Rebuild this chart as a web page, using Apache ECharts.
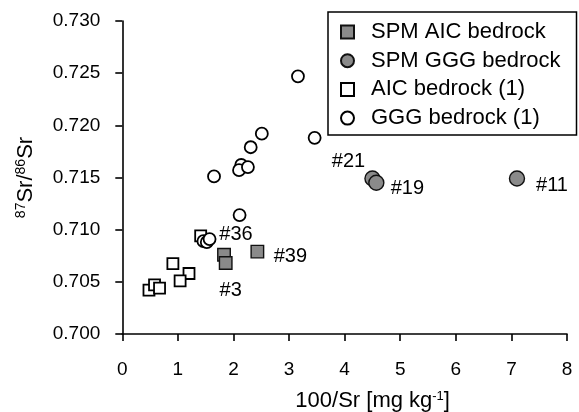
<!DOCTYPE html>
<html><head><meta charset="utf-8">
<script src="https://cdn.jsdelivr.net/npm/echarts@6/dist/echarts.min.js"></script>
<style>html,body{margin:0;padding:0;background:#fff}#c{width:579px;height:412px}</style>
</head><body><div id="c"></div>
<script>
// AIC bedrock (1) - open squares
const aicX = [1.41, 0.91, 1.20, 1.04, 0.48, 0.58, 0.67];
const aicY = [0.7094, 0.70675, 0.7058, 0.7051, 0.7042, 0.7047, 0.7044];
// GGG bedrock (1) - open circles
const gggX = [3.16, 3.46, 2.51, 2.31, 2.14, 2.10, 2.26, 1.65, 2.11, 1.46, 1.52, 1.57];
const gggY = [0.7247, 0.7188, 0.7192, 0.7179, 0.7162, 0.7157, 0.7160, 0.7151, 0.7114, 0.7089, 0.7088, 0.7091];
// SPM AIC bedrock - gray squares
const spmAicX = [1.83, 1.86, 2.43];
const spmAicY = [0.7076, 0.7068, 0.7079];
const spmAicLabels = ['#36', '#3', '#39'];
// SPM GGG bedrock - gray circles
const spmGggX = [4.50, 4.57, 7.10];
const spmGggY = [0.7149, 0.7145, 0.7149];
const spmGggLabels = ['#21', '#19', '#11'];

const seriesNames = ['SPM AIC bedrock', 'SPM GGG bedrock', 'AIC bedrock (1)', 'GGG bedrock (1)'];

// label placement (style)
const spmAicOffsets = [[12, -20], [5, 27], [33, 5]];
const spmGggOffsets = [[-24, -17], [31, 6], [35, 7]];

const FONT = 'Liberation Sans, Arial, Helvetica, sans-serif';
const GRAY = '#8a8a8a';
const INK = '#000';

function pts(xs, ys) { return xs.map((x, i) => [x, ys[i]]); }
function labelled(xs, ys, labels, offs) {
  return xs.map((x, i) => ({
    value: [x, ys[i]],
    label: { show: true, formatter: labels[i], position: 'inside', offset: offs[i],
      color: INK, fontSize: 20, fontFamily: FONT }
  }));
}

const chart = echarts.init(document.getElementById('c'), null, { renderer: 'canvas' });
chart.setOption({
  animation: false,
  backgroundColor: '#fff',
  grid: { left: 122.3, right: 12, top: 21, bottom: 78, containLabel: false, outerBoundsMode: 'none' },
  legend: {
    orient: 'vertical', left: 328, top: 12,
    data: seriesNames,
    borderColor: '#000', borderWidth: 1.5,
    padding: [9, 16, 6, 12],
    itemWidth: 13, itemHeight: 13, itemGap: 6.7,
    textStyle: { fontSize: 22, fontFamily: FONT, color: INK, padding: [0, 0, 0, 12] }
  },
  xAxis: {
    type: 'value', min: 0, max: 8, interval: 1,
    name: '100/Sr [mg kg{sup|-1}]',
    nameLocation: 'middle', nameGap: 56,
    nameTextStyle: { fontSize: 22, fontFamily: FONT, color: INK, padding: [0, 0, 0, 56],
      rich: { sup: { fontSize: 13, fontFamily: FONT, color: INK, verticalAlign: 'top', lineHeight: 13 } } },
    splitLine: { show: false },
    axisLine: { lineStyle: { color: '#000', width: 1.6 } },
    axisTick: { show: true, length: 7, lineStyle: { color: '#000', width: 1.6 } },
    axisLabel: { fontSize: 19, fontFamily: FONT, color: INK, margin: 26 }
  },
  yAxis: {
    type: 'value', min: 0.700, max: 0.730, interval: 0.005,
    name: '{sup|87}{n|Sr/}{sup|86}{n|Sr}',
    nameLocation: 'middle', nameRotate: 90, nameGap: 84,
    nameTextStyle: { rich: {
      n: { fontSize: 22, fontFamily: FONT, color: INK, lineHeight: 24 },
      sup: { fontSize: 14, fontFamily: FONT, color: INK, verticalAlign: 'top', lineHeight: 14 }
    } },
    splitLine: { show: false },
    axisLine: { show: true, lineStyle: { color: '#000', width: 1.6 } },
    axisTick: { show: true, length: 7, lineStyle: { color: '#000', width: 1.6 } },
    axisLabel: { fontSize: 19, fontFamily: FONT, color: INK, margin: 22,
      formatter: v => v.toFixed(3) }
  },
  series: [
    { name: 'AIC bedrock (1)', type: 'scatter', symbol: 'rect', symbolSize: 11,
      itemStyle: { color: '#fff', borderColor: '#000', borderWidth: 1.8, opacity: 1 },
      data: pts(aicX, aicY) },
    { name: 'GGG bedrock (1)', type: 'scatter', symbol: 'circle', symbolSize: 12,
      itemStyle: { color: '#fff', borderColor: '#000', borderWidth: 1.8, opacity: 1 },
      data: pts(gggX, gggY) },
    { name: 'SPM AIC bedrock', type: 'scatter', symbol: 'rect', symbolSize: 12.5,
      itemStyle: { color: GRAY, borderColor: '#111', borderWidth: 1.4, opacity: 1 },
      data: labelled(spmAicX, spmAicY, spmAicLabels, spmAicOffsets) },
    { name: 'SPM GGG bedrock', type: 'scatter', symbol: 'circle', symbolSize: 15,
      itemStyle: { color: GRAY, borderColor: '#111', borderWidth: 1.4, opacity: 1 },
      data: labelled(spmGggX, spmGggY, spmGggLabels, spmGggOffsets) }
  ]
});
</script></body></html>
